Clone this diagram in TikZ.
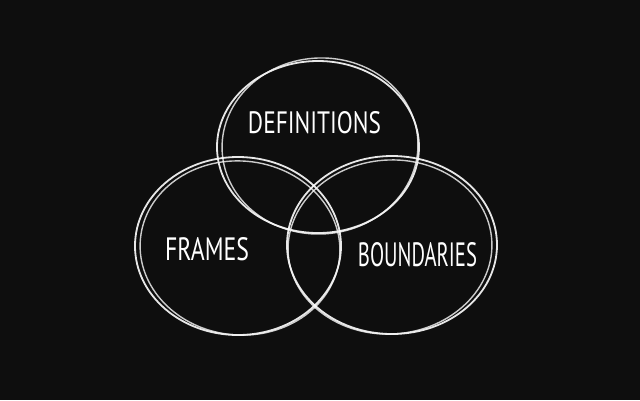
\documentclass[tikz,border=0pt]{standalone}
\usepackage{graphicx}
\usepackage{fontspec}
\setmainfont{PT Sans}
\definecolor{bg}{RGB}{14,14,14}
\begin{document}
\begin{tikzpicture}[x=1pt,y=-1pt,
  chalk/.style={draw=white, line width=1.8pt, opacity=0.9},
  chalkb/.style={draw=white!92!gray, line width=1.4pt, opacity=0.82},
  lbl/.style={text=white, inner sep=0pt}]
\fill[bg] (0,0) rectangle (640,400);
\useasboundingbox (0,0) rectangle (640,400);
% top ellipse: Definitions
\draw[chalk] (318,147) ellipse [x radius=101pt, y radius=86pt];
\draw[chalkb, rotate around={4:(320,146)}] (320,146) ellipse [x radius=98pt, y radius=88pt];
% left ellipse: Frames
\draw[chalk] (238,246) ellipse [x radius=103pt, y radius=89pt];
\draw[chalkb, rotate around={-5:(240,248)}] (240,248) ellipse [x radius=100pt, y radius=87pt];
% right ellipse: Boundaries
\draw[chalk] (392,245) ellipse [x radius=105pt, y radius=89pt];
\draw[chalkb, rotate around={4:(390,247)}] (390,247) ellipse [x radius=102pt, y radius=87pt];
% labels
\node[lbl] (def) at (314.5,123) {\resizebox{133pt}{22pt}{DEFINITIONS}};
\node[lbl] (fra) at (207,249.5) {\resizebox{84pt}{23pt}{FRAMES}};
\node[lbl] (bou) at (417.5,255) {\resizebox{119pt}{24pt}{BOUNDARIES}};
\end{tikzpicture}
\end{document}
